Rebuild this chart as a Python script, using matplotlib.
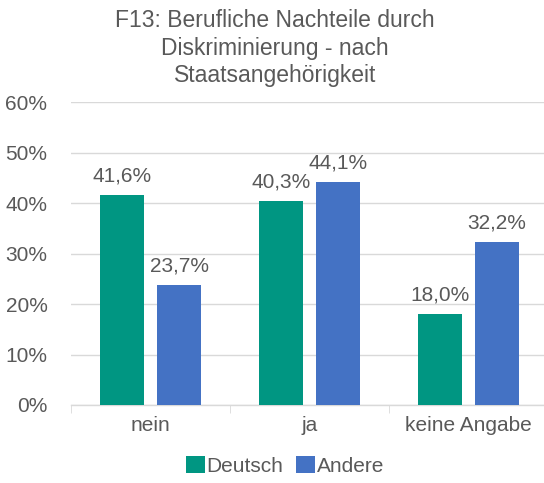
import matplotlib.pyplot as plt
import numpy as np

plt.rcParams['font.family'] = ['Liberation Sans', 'DejaVu Sans']

categories = ['nein', 'ja', 'keine Angabe']
deutsch = [41.6, 40.3, 18.0]
andere = [23.7, 44.1, 32.2]
yticks = [0, 10, 20, 30, 40, 50, 60]

teal = '#009682'
blue = '#4472C4'
gray = '#595959'

fig = plt.figure(figsize=(5.44, 4.83), dpi=100)
ax = fig.add_axes([71/544, 1-405/483, 477/544, 303/483])

x = np.arange(len(categories))
w = 0.277
b1 = ax.bar(x - 0.18, deutsch, w, color=teal, label='Deutsch', zorder=3)
b2 = ax.bar(x + 0.18, andere, w, color=blue, label='Andere', zorder=3)

for bars, vals in ((b1, deutsch), (b2, andere)):
    for r, v in zip(bars, vals):
        ax.annotate(f'{v:.1f}%'.replace('.', ','), (r.get_x() + r.get_width()/2, v),
                    xytext=(0, 7), textcoords='offset points', ha='center', va='bottom',
                    fontsize=15, color=gray)

ax.set_xlim(-0.5, 2.5)
ax.set_ylim(0, 60)
ax.set_yticks(yticks)
ax.set_yticklabels([f'{t}%' for t in yticks], fontsize=15, color=gray)
ax.set_xticks(x)
ax.set_xticklabels(categories, fontsize=15, color=gray)
ax.tick_params(axis='y', length=0, pad=17)
ax.tick_params(axis='x', length=0, pad=8)
ax.set_xticks([-0.5, 0.5, 1.5, 2.5], minor=True)
ax.tick_params(axis='x', which='minor', length=6, color='#D9D9D9', direction='out')
ax.grid(axis='y', color='#D9D9D9', linewidth=1, zorder=0)
for s in ('top', 'right', 'left'):
    ax.spines[s].set_visible(False)
ax.spines['bottom'].set_color('#D9D9D9')
ax.spines['bottom'].set_linewidth(1)

fig.text(275/544, 1-48/483, 'F13: Berufliche Nachteile durch\nDiskriminierung - nach\nStaatsangehörigkeit',
         ha='center', va='center', fontsize=16.5, color=gray, linespacing=1.25)

fig.legend(handles=[b1, b2], loc='center', bbox_to_anchor=(285/544, 1-466/483), ncol=2,
           frameon=False, fontsize=15, labelcolor=gray, handlelength=0.9, handleheight=0.9,
           handletextpad=0.1, columnspacing=0.6)

fig.savefig('out.png', dpi=100)
